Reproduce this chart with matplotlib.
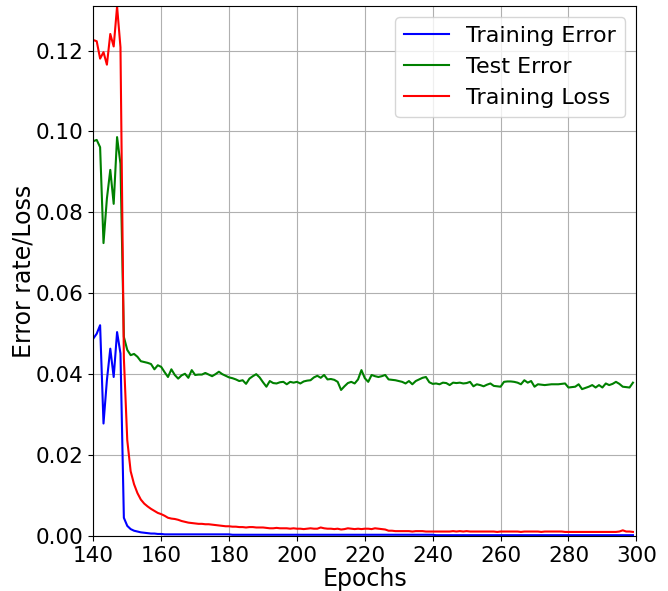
import numpy as np
import matplotlib
matplotlib.use('Agg')
import matplotlib.pyplot as plt

# epochs 140..299, one value per epoch
epochs = np.arange(140, 300)

train_error = [0.0488, 0.0500, 0.0521, 0.0278, 0.0385, 0.0463, 0.0393, 0.0504, 0.0451, 0.0045,
               0.0025, 0.0017, 0.0013, 0.0011, 0.0009, 0.0008, 0.0007, 0.0006, 0.0006, 0.0005,
               0.0005] + [0.0004] * 20 + [0.0003] * 60 + [0.0002] * 59

test_error = [0.0976, 0.0979, 0.0961, 0.0724, 0.0834, 0.0905, 0.0821, 0.0986, 0.0920, 0.0492,
              0.0460, 0.0447, 0.0450, 0.0443, 0.0432, 0.0430, 0.0428, 0.0425, 0.0412, 0.0422,
              0.0418, 0.0405, 0.0393, 0.0412, 0.0398, 0.0389, 0.0397, 0.0401, 0.0391, 0.0410,
              0.0398, 0.0399, 0.0399, 0.0403, 0.0399, 0.0395, 0.0400, 0.0406, 0.0400, 0.0396,
              0.0392, 0.0390, 0.0387, 0.0383, 0.0385, 0.0376, 0.0389, 0.0395, 0.0400, 0.0392,
              0.0380, 0.0369, 0.0383, 0.0378, 0.0377, 0.0380, 0.0381, 0.0375, 0.0381, 0.0379,
              0.0381, 0.0377, 0.0382, 0.0384, 0.0385, 0.0392, 0.0396, 0.0391, 0.0398, 0.0387,
              0.0388, 0.0386, 0.0381, 0.0361, 0.0370, 0.0378, 0.0381, 0.0377, 0.0387, 0.0410,
              0.0390, 0.0381, 0.0398, 0.0395, 0.0393, 0.0395, 0.0398, 0.0387, 0.0386, 0.0385,
              0.0383, 0.0381, 0.0377, 0.0383, 0.0375, 0.0383, 0.0387, 0.0391, 0.0393, 0.0380,
              0.0376, 0.0377, 0.0375, 0.0379, 0.0378, 0.0373, 0.0379, 0.0378, 0.0379, 0.0377,
              0.0378, 0.0381, 0.0370, 0.0375, 0.0373, 0.0370, 0.0374, 0.0377, 0.0371, 0.0370,
              0.0369, 0.0381, 0.0382, 0.0382, 0.0381, 0.0379, 0.0375, 0.0385, 0.0379, 0.0383,
              0.0369, 0.0375, 0.0374, 0.0373, 0.0374, 0.0375, 0.0375, 0.0375, 0.0376, 0.0377,
              0.0367, 0.0368, 0.0369, 0.0375, 0.0363, 0.0366, 0.0369, 0.0373, 0.0367, 0.0373,
              0.0367, 0.0377, 0.0373, 0.0376, 0.0381, 0.0376, 0.0369, 0.0368, 0.0367, 0.0379]

train_loss = [0.1226, 0.1223, 0.1180, 0.1196, 0.1165, 0.1241, 0.1210, 0.1309, 0.1208, 0.0440,
              0.0237, 0.0160, 0.0128, 0.0106, 0.0090, 0.0080, 0.0073, 0.0067, 0.0062, 0.0057,
              0.0054, 0.0050, 0.0045, 0.0043, 0.0042, 0.0040, 0.0037, 0.0035, 0.0033, 0.0032,
              0.0031, 0.0030, 0.0030, 0.0029, 0.0029, 0.0028, 0.0027, 0.0026, 0.0025, 0.0024,
              0.0024, 0.0023, 0.0023, 0.0022, 0.0022, 0.0021, 0.0022, 0.0022, 0.0021, 0.0021,
              0.0021, 0.0020, 0.0019, 0.0019, 0.0020, 0.0019, 0.0019, 0.0019, 0.0018, 0.0019,
              0.0018, 0.0018, 0.0017, 0.0018, 0.0019, 0.0018, 0.0018, 0.0021, 0.0019, 0.0018,
              0.0018, 0.0017, 0.0018, 0.0016, 0.0017, 0.0019, 0.0018, 0.0017, 0.0018, 0.0017,
              0.0018, 0.0018, 0.0017, 0.0019, 0.0018, 0.0017, 0.0016, 0.0013, 0.0013, 0.0012,
              0.0012, 0.0012, 0.0012, 0.0012, 0.0011, 0.0012, 0.0012, 0.0012, 0.0011, 0.0011,
              0.0011, 0.0011, 0.0011, 0.0011, 0.0011, 0.0011, 0.0012, 0.0011, 0.0012, 0.0011,
              0.0012, 0.0011, 0.0011, 0.0011, 0.0011, 0.0011, 0.0011, 0.0011, 0.0011, 0.0010,
              0.0011, 0.0011, 0.0011, 0.0011, 0.0011, 0.0011, 0.0010, 0.0011, 0.0011, 0.0011,
              0.0011, 0.0011, 0.0010, 0.0011, 0.0011, 0.0011, 0.0011, 0.0011, 0.0011, 0.0010,
              0.0010, 0.0010, 0.0010, 0.0010, 0.0010, 0.0010, 0.0010, 0.0010, 0.0010, 0.0010,
              0.0010, 0.0010, 0.0010, 0.0010, 0.0010, 0.0011, 0.0014, 0.0011, 0.0011, 0.0010]

fig = plt.figure(figsize=(6.68, 5.91), dpi=100)
ax = fig.add_axes([0.1397, 0.0931, 0.8129, 0.8967])

ax.plot(epochs, train_error, color='b', lw=1.5, label='Training Error')
ax.plot(epochs, test_error, color='g', lw=1.5, label='Test Error')
ax.plot(epochs, train_loss, color='r', lw=1.5, label='Training Loss')

ax.set_xlim(140, 300)
ax.set_ylim(0, 0.131)
ax.set_yticks([0, 0.02, 0.04, 0.06, 0.08, 0.10, 0.12])
ax.yaxis.set_major_formatter(plt.FormatStrFormatter('%.2f'))
ax.tick_params(labelsize=15.5)
ax.grid(True, color='#b0b0b0', lw=0.8)
ax.set_xlabel('Epochs', fontsize=17, labelpad=1)
ax.set_ylabel('Error rate/Loss', fontsize=17, labelpad=0)
ax.legend(loc='upper right', fontsize=16)

fig.savefig('out.png', dpi=100)
